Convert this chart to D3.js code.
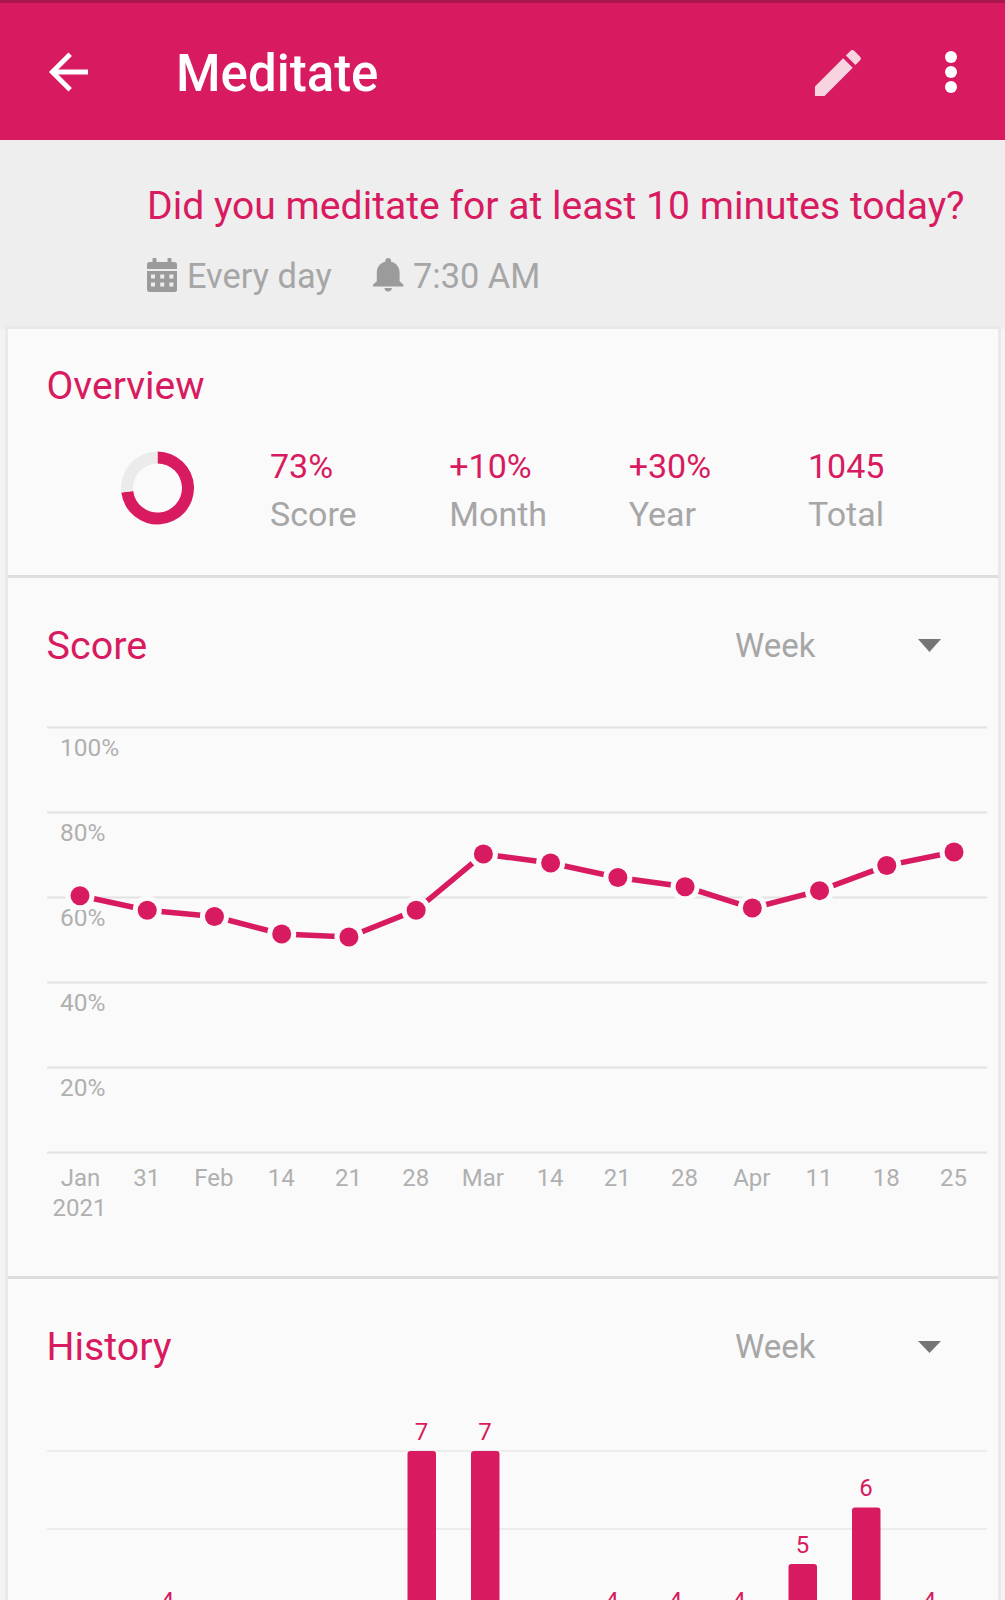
<!DOCTYPE html>
<html>
<head>
<meta charset="utf-8">
<script src="https://cdn.jsdelivr.net/npm/d3@7"></script>
<style>
body{margin:0;background:#eeeeee}
svg{display:block}
text{font-family:Roboto,sans-serif}
</style>
</head>
<body>
<div id="canvas"></div>
<script>
"use strict"

let overviewValues=["73%","+10%","+30%","1045"]
let overviewNames=["Score","Month","Year","Total"]
let ringParts=[73,27]

let scorePercent=[100,80,60,40,20,0]
let scoreWeeks=["Jan","31","Feb","14","21","28","Mar","14","21","28","Apr","11","18","25"]
let scoreValues=[60.3,56.9,55.4,51.3,50.6,56.9,70.1,68,64.6,62.4,57.4,61.5,67.4,70.6]

// null = bar top is below the bottom of the screenshot, can't be read
let historyValues=[4,null,null,null,7,7,null,4,4,4,5,6,4]
let historyGrid=[7,5.62]

let pink="#d81b60"
let grey="#a6a6a6"
let iconGrey="#9b9b9b"
let tickGrey="#b0b0b0"
let cardColor="#fafafa"

let drawing=d3.select("#canvas")
    .append("svg")
    .attr("width",1005)
    .attr("height",1600)

drawing.append("rect")
    .attr("width",1005)
    .attr("height",1600)
    .attr("fill","#f3f3f3")

function addText(x,y,str,size,color,weight){
    return drawing.append("text")
        .attr("x",x)
        .attr("y",y)
        .attr("font-size",size)
        .attr("font-weight",weight||400)
        .attr("fill",color)
        .text(str)
}

// app bar
drawing.append("rect").attr("y",140).attr("width",1005).attr("height",189).attr("fill","#eeeeee")
drawing.append("rect").attr("width",1005).attr("height",140).attr("fill",pink)
drawing.append("rect").attr("width",1005).attr("height",3).attr("fill","#a8184c")

drawing.append("path")
    .attr("transform","translate(39.2,42.7) scale(2.44)")
    .attr("d","M20 11H7.83l5.59-5.59L12 4l-8 8 8 8 1.41-1.41L7.83 13H20v-2z")
    .attr("fill","#fff")

addText(176,91,"Meditate",51,"#fff",500)

drawing.append("path")
    .attr("transform","translate(807.3,42.4) scale(2.55)")
    .attr("d","M3 17.25V21h3.75L17.81 9.94l-3.75-3.75L3 17.25zM20.71 7.04c.39-.39.39-1.02 0-1.41l-2.34-2.34c-.39-.39-1.02-.39-1.41 0l-1.83 1.83 3.75 3.75 1.83-1.83z")
    .attr("fill","#f8d3e0")

drawing.selectAll(".menuDot")
    .data([57,72,87])
    .join("circle")
    .attr("class","menuDot")
    .attr("cx",951)
    .attr("cy",d=>d)
    .attr("r",6)
    .attr("fill","#fff")

// habit header
addText(147,218.5,"Did you meditate for at least 10 minutes today?",39.1,pink)

drawing.append("rect").attr("x",147).attr("y",262).attr("width",30).attr("height",30).attr("rx",2.5).attr("fill",iconGrey)
drawing.selectAll(".calPeg")
    .data([154.5,169.5])
    .join("rect")
    .attr("class","calPeg")
    .attr("x",d=>d-2)
    .attr("y",258)
    .attr("width",4)
    .attr("height",8)
    .attr("rx",1)
    .attr("fill",iconGrey)
drawing.append("rect").attr("x",147).attr("y",269).attr("width",30).attr("height",2).attr("fill","#eeeeee")
for(let r=0;r<2;r++){
    for(let c=0;c<3;c++){
        drawing.append("rect")
            .attr("x",151+c*9.2)
            .attr("y",274.5+r*8)
            .attr("width",4)
            .attr("height",4)
            .attr("fill","#eeeeee")
    }
}
addText(187,288,"Every day",34.4,grey)

drawing.append("path")
    .attr("transform","translate(365.4,253.7) scale(1.9,1.72)")
    .attr("d","M12 22c1.1 0 2-.9 2-2h-4c0 1.1.89 2 2 2zm6-6v-5c0-3.07-1.64-5.64-4.5-6.32V4c0-.83-.67-1.5-1.5-1.5s-1.5.67-1.5 1.5v.68C7.63 5.36 6 7.92 6 11v5l-2 2v1h16v-1l-2-2z")
    .attr("fill",iconGrey)
addText(413,288,"7:30 AM",34.4,grey)

// cards
drawing.append("rect").attr("x",5).attr("y",326).attr("width",996).attr("height",1274).attr("fill","#e9e9e9")
drawing.selectAll(".card")
    .data([[329,575],[578,1276],[1279,1600]])
    .join("rect")
    .attr("class","card")
    .attr("x",8)
    .attr("y",d=>d[0])
    .attr("width",990)
    .attr("height",d=>d[1]-d[0])
    .attr("fill",cardColor)
drawing.selectAll(".cardEdge")
    .data([575,1276])
    .join("rect")
    .attr("class","cardEdge")
    .attr("x",8)
    .attr("y",d=>d)
    .attr("width",990)
    .attr("height",3)
    .attr("fill","#dedede")

// overview
addText(46.5,399,"Overview",39,pink)

let ringArc=d3.arc().innerRadius(24.5).outerRadius(36.5)
let ringPie=d3.pie().sort(null)
drawing.append("g")
    .attr("transform","translate(157.5,488)")
    .selectAll("path")
    .data(ringPie(ringParts))
    .join("path")
    .attr("d",ringArc)
    .attr("fill",(d,i)=>i==0?pink:"#ebebeb")

let overviewX=d3.scalePoint().domain(d3.range(4)).range([270,808])
overviewValues.forEach((v,i)=>{
    addText(overviewX(i),478,v,34,pink)
    addText(overviewX(i),525.5,overviewNames[i],34,grey)
})

// score
addText(46.5,658.5,"Score",39.5,pink)
addText(735,657,"Week",33,grey)
drawing.append("polygon")
    .attr("points","918,639 941,639 929.5,652")
    .attr("fill","#757575")

let scoreY=d3.scaleLinear().domain([0,100]).range([1152,727])
let scoreX=d3.scalePoint().domain(d3.range(scoreWeeks.length)).range([80,954])

let scoreGrid=drawing.append("g")
    .attr("transform","translate(987,0)")
    .call(d3.axisLeft(scoreY).tickValues(scorePercent).tickSize(940).tickFormat(d=>d==0?"":d+"%"))
scoreGrid.select(".domain").remove()
scoreGrid.selectAll("line").attr("stroke","#e2e2e2").attr("stroke-width",2)
scoreGrid.selectAll("text")
    .attr("x",-927)
    .attr("dy",0)
    .attr("y",28.5)
    .attr("text-anchor","start")
    .attr("font-size",24.5)
    .attr("font-family","Roboto")
    .attr("fill",tickGrey)

let scoreAxis=drawing.append("g")
    .attr("transform","translate(0,1152)")
    .call(d3.axisBottom(scoreX).tickSize(0).tickFormat(i=>scoreWeeks[i]))
scoreAxis.select(".domain").remove()
scoreAxis.selectAll("text")
    .attr("x",(d,i)=>i==0?0:-1)
    .attr("y",34)
    .attr("dy",0)
    .attr("font-size",24)
    .attr("font-family","Roboto")
    .attr("fill",tickGrey)
addText(scoreX(0)-0.5,1216,"2021",24,tickGrey).attr("text-anchor","middle")

let scoreLine=d3.line().x((d,i)=>scoreX(i)).y(d=>scoreY(d))
drawing.append("path")
    .attr("d",scoreLine(scoreValues))
    .attr("fill","none")
    .attr("stroke",pink)
    .attr("stroke-width",5.5)

drawing.selectAll(".scoreRing")
    .data(scoreValues)
    .join("circle")
    .attr("class","scoreRing")
    .attr("cx",(d,i)=>scoreX(i))
    .attr("cy",d=>scoreY(d))
    .attr("r",14.5)
    .attr("fill",cardColor)

drawing.selectAll(".scoreDot")
    .data(scoreValues)
    .join("circle")
    .attr("class","scoreDot")
    .attr("cx",(d,i)=>scoreX(i))
    .attr("cy",d=>scoreY(d))
    .attr("r",9.5)
    .attr("fill",pink)

// history
addText(46.5,1359.5,"History",39.3,pink)
addText(735,1358,"Week",33,grey)
drawing.append("polygon")
    .attr("points","918,1341 941,1341 929.5,1353")
    .attr("fill","#757575")

let historyY=d3.scaleLinear().domain([0,7]).range([1846.5,1451])
let historyX=d3.scalePoint().domain(d3.range(historyValues.length)).range([168,930])

drawing.selectAll(".historyGrid")
    .data(historyGrid)
    .join("line")
    .attr("class","historyGrid")
    .attr("x1",47)
    .attr("x2",987)
    .attr("y1",d=>historyY(d))
    .attr("y2",d=>historyY(d))
    .attr("stroke","#ececec")
    .attr("stroke-width",2)

let historyBars=historyValues.map((v,i)=>({v:v,i:i})).filter(d=>d.v!=null)

drawing.selectAll(".historyBar")
    .data(historyBars)
    .join("rect")
    .attr("class","historyBar")
    .attr("x",d=>historyX(d.i)-14.5)
    .attr("y",d=>historyY(d.v))
    .attr("width",28.5)
    .attr("height",d=>historyY(0)-historyY(d.v))
    .attr("rx",3)
    .attr("fill",pink)

drawing.selectAll(".historyLabel")
    .data(historyBars)
    .join("text")
    .attr("class","historyLabel")
    .attr("x",d=>historyX(d.i)-0.5)
    .attr("y",d=>historyY(d.v)-11.5)
    .attr("text-anchor","middle")
    .attr("font-size",24)
    .attr("fill",pink)
    .text(d=>d.v)
</script>
</body>
</html>
